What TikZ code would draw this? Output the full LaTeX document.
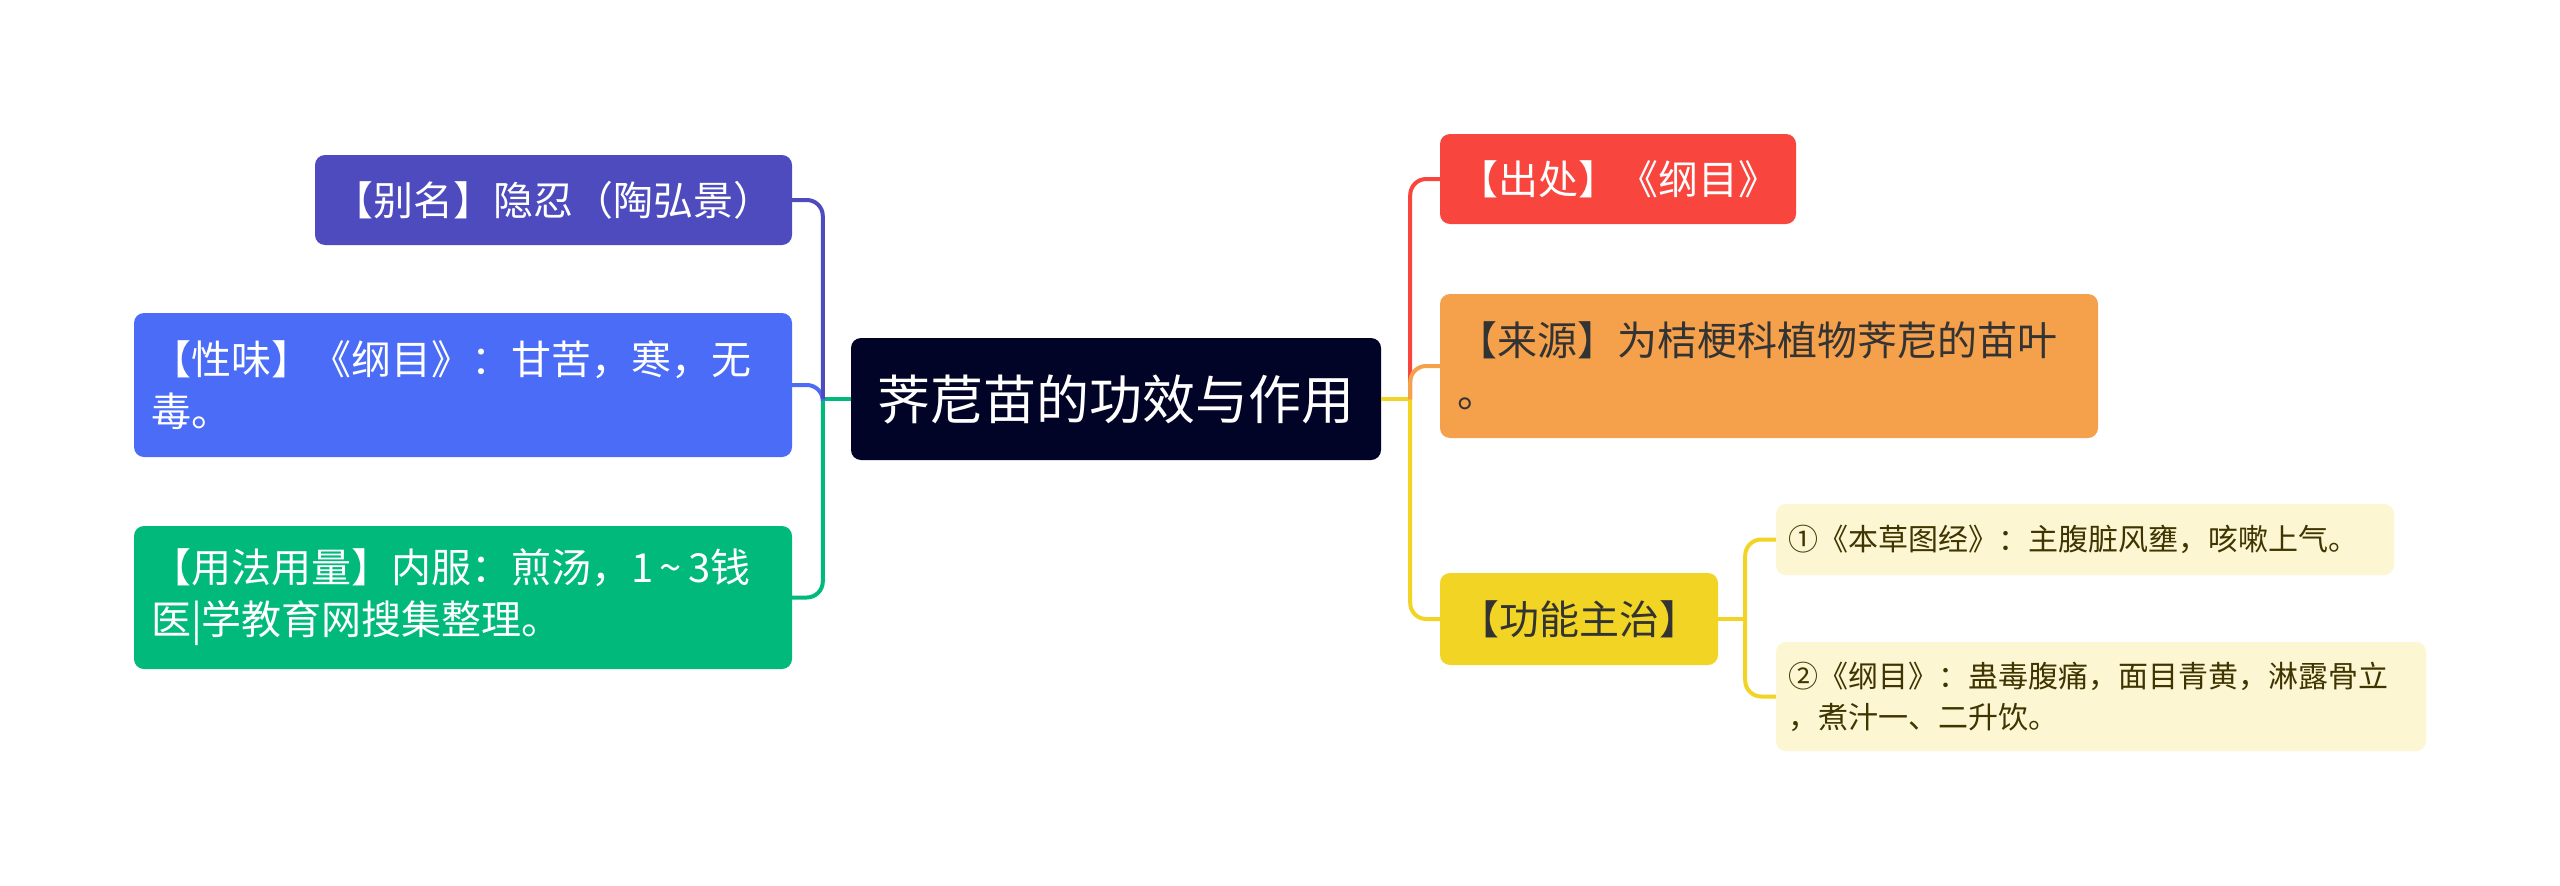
\documentclass[tikz,border=0pt]{standalone}
\usepackage{fontspec}
\newfontfamily\cjk{Noto Sans CJK SC}
\definecolor{cPurple}{HTML}{4E4BBE}
\definecolor{cBlue}{HTML}{4A6CF7}
\definecolor{cGreen}{HTML}{00B97A}
\definecolor{cNavy}{HTML}{020427}
\definecolor{cRed}{HTML}{F8453D}
\definecolor{cOrange}{HTML}{F5A04B}
\definecolor{cYellow}{HTML}{F2D424}
\definecolor{cCream}{HTML}{FDF6D3}
\definecolor{cOlive}{HTML}{3F3500}
\definecolor{cDark}{HTML}{333333}
\tikzset{
  box/.style={rounded corners=10, inner sep=0pt, draw=none},
  big/.style={font=\cjk\fontsize{40}{52}\selectfont},
  small/.style={font=\cjk\fontsize{30}{41}\selectfont},
  conn/.style={line width=4pt, rounded corners=16},
  trunk/.style={line width=4pt},
}
\begin{document}
\begin{tikzpicture}[x=1pt,y=-1pt]
\useasboundingbox (0,0) rectangle (2560,886);
\fill[white] (0,0) rectangle (2560,886);

% central
\node[box, fill=cNavy, text=white, minimum width=530, minimum height=122,
      font=\cjk\fontsize{53}{64}\selectfont] (c) at (1116,399) {荠苨苗的功效与作用};

% left
\node[box, big, fill=cPurple, text=white, minimum width=477, minimum height=90] (bm) at (553.5,200) {【别名】隐忍（陶弘景）};
\node[box, big, fill=cBlue, text=white, text width=624, inner xsep=17, minimum height=144, align=left] (xw) at (463,385)
  {【性味】《纲目》：甘苦，寒，无\\毒。};
\node[box, big, fill=cGreen, text=white, text width=624, inner xsep=17, minimum height=143, align=left] (yf) at (463,597.5)
  {【用法用量】内服：煎汤，1\,\textasciitilde\,3钱\\医|学教育网搜集整理。};

% right
\node[box, big, fill=cRed, text=white, minimum width=356, minimum height=90] (cc) at (1618,179) {【出处】《纲目》};
\node[box, big, fill=cOrange, text=cDark, text width=624, inner xsep=17, minimum height=144, align=left] (ly) at (1769,366)
  {【来源】为桔梗科植物荠苨的苗叶\\。};
\node[box, big, fill=cYellow, text=cDark, minimum width=278, minimum height=92] (gn) at (1579,619) {【功能主治】};
\node[box, small, fill=cCream, text=cOlive, text width=594, inner xsep=12, minimum height=71, align=left] (s1) at (2085,539.5)
  {①《本草图经》：主腹脏风壅，咳嗽上气。};
\node[box, small, fill=cCream, text=cOlive, text width=626, inner xsep=12, minimum height=109, align=left] (s2) at (2101,696.5)
  {②《纲目》：蛊毒腹痛，面目青黄，淋露骨立\\，煮汁一、二升饮。};

% left connectors
\draw[trunk, cGreen] (c.west) -- ++(-28,0) coordinate (jl);
\draw[conn, cGreen] (jl) |- (yf.east);
\draw[conn, cBlue] (jl) |- (xw.east);
\draw[conn, cPurple] (jl) |- (bm.east);

% right connectors
\draw[trunk, cYellow] (c.east) -- ++(29,0) coordinate (jr);
\draw[conn, cYellow] (jr) |- (gn.west);
\draw[conn, cRed] (jr) |- (cc.west);
\draw[conn, cOrange] (jr) |- (ly.west);

% sub connectors
\draw[trunk, cYellow] (gn.east) -- ++(27,0) coordinate (js);
\draw[conn, cYellow] (js) |- (s1.west);
\draw[conn, cYellow] (js) |- (s2.west);
\end{tikzpicture}
\end{document}
